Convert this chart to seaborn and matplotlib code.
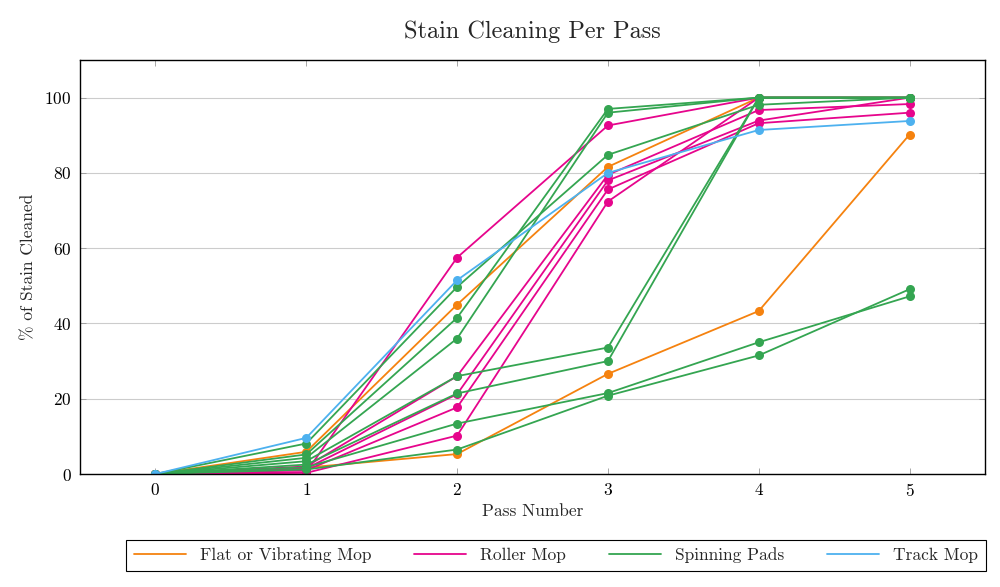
import numpy as np
import pandas as pd
import matplotlib
matplotlib.use("Agg")
import matplotlib.pyplot as plt
import seaborn as sns

# ---- data ----
passes = [0, 1, 2, 3, 4, 5]
categories = ["Flat or Vibrating Mop", "Roller Mop", "Spinning Pads", "Track Mop"]

flat_mop = [
    [0, 5.9, 45.0, 81.6, 100.0, 100.0],
    [0, 1.7, 5.3, 26.6, 43.3, 90.2],
]
roller_mop = [
    [0, 0.5, 57.5, 92.6, 100.0, 100.0],
    [0, 2.0, 26.0, 79.5, 96.7, 98.3],
    [0, 1.5, 21.2, 78.0, 93.9, 100.0],
    [0, 1.0, 17.7, 75.6, 93.2, 96.0],
    [0, 0.3, 10.2, 72.4, 100.0, 100.0],
]
spinning_pads = [
    [0, 8.1, 49.7, 84.8, 98.1, 100.0],
    [0, 5.2, 41.5, 97.0, 100.0, 100.0],
    [0, 4.3, 36.0, 96.0, 100.0, 100.0],
    [0, 3.4, 26.0, 33.6, 100.0, 100.0],
    [0, 2.5, 21.4, 30.0, 100.0, 100.0],
    [0, 1.8, 13.4, 21.5, 35.0, 47.2],
    [0, 1.2, 6.5, 20.8, 31.5, 49.1],
]
track_mop = [
    [0, 9.6, 51.5, 80.0, 91.4, 93.8],
]

colors = ["#f5820f", "#e6058c", "#34a551", "#4db1ef"]

# ---- build long dataframe ----
rows = []
sid = 0
for cat, group in zip(categories, [flat_mop, roller_mop, spinning_pads, track_mop]):
    for series in group:
        for p, v in zip(passes, series):
            rows.append({"Pass": p, "Value": v, "Type": cat, "Series": sid})
        sid += 1
df = pd.DataFrame(rows)

sns.set_theme(style="white")
plt.rcParams["font.family"] = ["cmr10", "DejaVu Serif"]
plt.rcParams["axes.formatter.use_mathtext"] = True
plt.rcParams["mathtext.fontset"] = "cm"

fig = plt.figure(figsize=(10, 5.87), dpi=100)
ax = fig.add_axes([0.08, 0.1925, 0.905, 0.7053])

sns.lineplot(data=df, x="Pass", y="Value", hue="Type", units="Series",
             estimator=None, hue_order=categories, palette=colors,
             marker="o", markersize=6.5, markeredgewidth=0, linewidth=1.3,
             ax=ax, legend=True)

ax.set_xlim(-0.5, 5.5)
ax.set_ylim(0, 110)
ax.set_xticks(passes)
ax.set_yticks([0, 20, 40, 60, 80, 100])
ax.yaxis.grid(True, color="#cccccc", linewidth=0.8)
ax.xaxis.grid(False)
ax.set_axisbelow(True)
for s in ax.spines.values():
    s.set_color("black")
    s.set_linewidth(1.0)
ax.tick_params(axis="both", direction="in", length=4, width=0.6, color="#999999",
               labelsize=12.5, labelcolor="black", top=True, right=True,
               bottom=True, left=True, pad=6)

ax.set_title("Stain Cleaning Per Pass", fontsize=17.5, pad=16)
ax.set_xlabel("Pass Number", fontsize=12.5, labelpad=3)
ax.set_ylabel("% of Stain Cleaned", fontsize=12.5, labelpad=6)

handles, labels = ax.get_legend_handles_labels()
ax.get_legend().remove()
for h in handles:
    h.set_marker("")
leg = fig.legend(handles, labels, loc="center", ncol=4, mode="expand",
                 bbox_to_anchor=(0.126, 0.0239, 0.86, 0.0596),
                 borderaxespad=0, frameon=True, fancybox=False,
                 edgecolor="black", framealpha=1, fontsize=12.5,
                 handlelength=3.0, borderpad=0.45)
leg.get_frame().set_linewidth(0.8)

fig.savefig("out.png", dpi=100)
